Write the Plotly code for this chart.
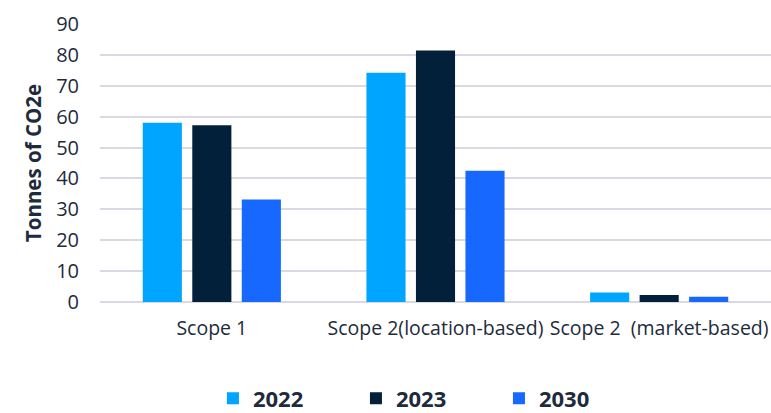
import plotly.graph_objects as go

categories = ["Scope 1", "Scope 2(location-based)", "Scope 2  (market-based)"]
years = ["2022", "2023", "2030"]
values_2022 = [58.0, 74.2, 3.1]
values_2023 = [57.2, 81.4, 2.3]
values_2030 = [33.2, 42.5, 1.7]
colors = ["#00A5FF", "#02203A", "#1668FF"]
y_ticks = [0, 10, 20, 30, 40, 50, 60, 70, 80, 90]

text_color = "#1E2B3C"
grid_color = "#D9D8E3"
font_family = "Open Sans, Roboto, sans-serif"

fig = go.Figure()
for name, vals, col in zip(years, [values_2022, values_2023, values_2030], colors):
    fig.add_trace(go.Bar(
        x=categories, y=vals, name=name,
        marker=dict(color=col, line=dict(width=0)),
    ))

fig.update_layout(
    width=771, height=413,
    margin=dict(l=100, r=0, t=24, b=111, autoexpand=False),
    paper_bgcolor="white", plot_bgcolor="white",
    barmode="group", bargap=0.336, bargroupgap=0.21,
    font=dict(family=font_family, color=text_color, size=19),
    showlegend=True,
    legend=dict(
        orientation="h", x=0.488, xanchor="center", y=-0.347, yanchor="middle",
        font=dict(size=22, color=text_color, family=font_family, weight="bold"),
        entrywidth=98, itemsizing="constant",
    ),
    xaxis=dict(
        showgrid=False, showline=False, ticks="",
        tickfont=dict(size=19.5, color=text_color),
        ticklabelstandoff=12,
    ),
    yaxis=dict(
        range=[0, 90], tickvals=y_ticks, showgrid=True, gridcolor=grid_color, gridwidth=2,
        zeroline=True, zerolinecolor=grid_color, zerolinewidth=2,
        showline=False, ticks="", ticklen=0,
        tickfont=dict(size=20, color=text_color),
        ticklabelstandoff=20,
        title=dict(text="Tonnes of CO2e", font=dict(size=20.5, color=text_color, weight="bold"), standoff=8),
    ),
)

fig.write_html("out.html")
